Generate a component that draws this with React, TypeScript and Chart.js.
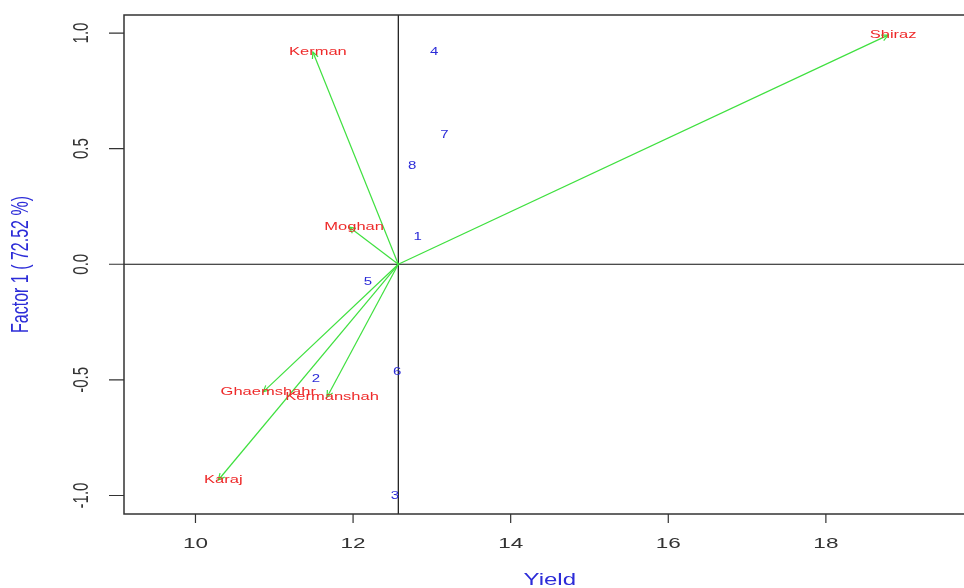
import React, { useEffect, useRef } from "react";
import { Chart, registerables } from "chart.js";

Chart.register(...registerables);

// ---------- data ----------
const ORIGIN_X = 12.574;
const ORIGIN_Y = 0;

const envNames = ["Shiraz", "Kerman", "Moghan", "Ghaemshahr", "Kermanshah", "Karaj"];
const envX = [18.79, 11.49, 11.95, 10.86, 11.67, 10.29];
const envY = [0.991, 0.918, 0.161, -0.552, -0.574, -0.933];

const genoLabels = ["1", "2", "3", "4", "5", "6", "7", "8"];
const genoX = [12.82, 11.53, 12.53, 13.03, 12.19, 12.56, 13.16, 12.75];
const genoY = [0.118, -0.499, -1.002, 0.918, -0.077, -0.466, 0.558, 0.425];

const xTicks = [10, 12, 14, 16, 18];
const xTickLabels = ["10", "12", "14", "16", "18"];
const yTicks = [-1.0, -0.5, 0.0, 0.5, 1.0];
const yTickLabels = ["-1.0", "-0.5", "0.0", "0.5", "1.0"];

const X_MIN = 9.093;
const X_MAX = 19.9;
const Y_MIN = -1.08;
const Y_MAX = 1.078;

const xTitle = "Yield";
const yTitle = "Factor 1 ( 72.52 %)";

// ---------- style ----------
const FONT = '"Liberation Sans", Arial, Helvetica, sans-serif';
const GREEN = "#3fe03f";
const RED = "#ee2a2a";
const BLUE = "#2c2cd8";
const AXIS = "#333333";
const SX = 1.5; // horizontal stretch of the reference's text

function drawText(
  ctx: CanvasRenderingContext2D,
  text: string,
  x: number,
  y: number,
  font: string,
  color: string,
  rotated = false
) {
  ctx.save();
  ctx.translate(x, y);
  if (rotated) {
    ctx.rotate(-Math.PI / 2);
    ctx.scale(1, SX);
  } else {
    ctx.scale(SX, 1);
  }
  ctx.font = font;
  ctx.fillStyle = color;
  ctx.textAlign = "center";
  ctx.textBaseline = "middle";
  ctx.fillText(text, 0, 0);
  ctx.restore();
}

const biplotPlugin = {
  id: "biplotPlugin",
  beforeDatasetsDraw(chart: any) {
    const { ctx, chartArea, scales } = chart;
    const px = scales.x.getPixelForValue(ORIGIN_X);
    const py = scales.y.getPixelForValue(ORIGIN_Y);
    ctx.save();
    ctx.strokeStyle = "#111111";
    ctx.lineWidth = 1.2;
    ctx.beginPath();
    ctx.moveTo(px, chartArea.top);
    ctx.lineTo(px, chartArea.bottom);
    ctx.moveTo(chartArea.left, py);
    ctx.lineTo(chartArea.right, py);
    ctx.stroke();
    ctx.restore();
  },
  afterDatasetsDraw(chart: any) {
    const { ctx } = chart;
    // arrowheads
    for (let i = 0; i < envNames.length; i++) {
      const meta = chart.getDatasetMeta(i);
      const a = meta.data[0];
      const b = meta.data[1];
      const ang = Math.atan2(b.y - a.y, b.x - a.x);
      const len = 7;
      const spread = Math.PI / 7;
      ctx.save();
      ctx.strokeStyle = GREEN;
      ctx.lineWidth = 1.2;
      ctx.beginPath();
      ctx.moveTo(b.x - len * Math.cos(ang - spread), b.y - len * Math.sin(ang - spread));
      ctx.lineTo(b.x, b.y);
      ctx.lineTo(b.x - len * Math.cos(ang + spread), b.y - len * Math.sin(ang + spread));
      ctx.stroke();
      ctx.restore();
    }
    // environment labels
    const envMeta = chart.getDatasetMeta(envNames.length);
    envMeta.data.forEach((pt: any, i: number) => {
      drawText(ctx, envNames[i], pt.x + 5, pt.y, `11px ${FONT}`, RED);
    });
    // genotype labels
    const genoMeta = chart.getDatasetMeta(envNames.length + 1);
    genoMeta.data.forEach((pt: any, i: number) => {
      drawText(ctx, genoLabels[i], pt.x, pt.y, `10px ${FONT}`, BLUE);
    });
  },
  afterDraw(chart: any) {
    const { ctx, chartArea, scales } = chart;
    ctx.save();
    ctx.strokeStyle = AXIS;
    ctx.lineWidth = 1.5;
    ctx.strokeRect(chartArea.left, chartArea.top, chartArea.right - chartArea.left, chartArea.bottom - chartArea.top);
    ctx.lineWidth = 1.2;
    ctx.beginPath();
    yTicks.forEach((v) => {
      const y = scales.y.getPixelForValue(v);
      ctx.moveTo(chartArea.left - 15, y);
      ctx.lineTo(chartArea.left, y);
    });
    xTicks.forEach((v) => {
      const x = scales.x.getPixelForValue(v);
      ctx.moveTo(x, chartArea.bottom);
      ctx.lineTo(x, chartArea.bottom + 9);
    });
    ctx.stroke();
    ctx.restore();

    yTicks.forEach((v, i) => {
      const y = scales.y.getPixelForValue(v);
      drawText(ctx, yTickLabels[i], chartArea.left - 42, y, `15px ${FONT}`, "#333333", true);
    });
    xTicks.forEach((v, i) => {
      const x = scales.x.getPixelForValue(v);
      drawText(ctx, xTickLabels[i], x, chartArea.bottom + 30, `15px ${FONT}`, "#333333");
    });
    drawText(ctx, xTitle, (chartArea.left + chartArea.right) / 2, chartArea.bottom + 67, `16px ${FONT}`, BLUE);
    drawText(ctx, yTitle, 21, (chartArea.top + chartArea.bottom) / 2, `16px ${FONT}`, BLUE, true);
  },
};

export default function App() {
  const ref = useRef<HTMLCanvasElement | null>(null);

  useEffect(() => {
    if (!ref.current) return;
    const arrowSets = envNames.map((name, i) => ({
      label: name,
      data: [
        { x: ORIGIN_X, y: ORIGIN_Y },
        { x: envX[i], y: envY[i] },
      ],
      showLine: true,
      borderColor: GREEN,
      borderWidth: 1.2,
      pointRadius: 0,
      pointHoverRadius: 0,
    }));
    const envLabelSet = {
      label: "Environments",
      data: envX.map((x, i) => ({ x, y: envY[i] })),
      pointRadius: 0,
      showLine: false,
    };
    const genoSet = {
      label: "Genotypes",
      data: genoX.map((x, i) => ({ x, y: genoY[i] })),
      pointRadius: 0,
      showLine: false,
    };

    const chart = new Chart(ref.current, {
      type: "scatter",
      data: { datasets: [...arrowSets, envLabelSet, genoSet] as any },
      options: {
        animation: false,
        responsive: false,
        devicePixelRatio: 1,
        layout: { padding: { left: 124, top: 15, right: 14.4, bottom: 74 } },
        plugins: { legend: { display: false }, tooltip: { enabled: false } },
        scales: {
          x: { type: "linear", min: X_MIN, max: X_MAX, display: false },
          y: { type: "linear", min: Y_MIN, max: Y_MAX, display: false },
        },
      },
      plugins: [biplotPlugin],
    });
    return () => chart.destroy();
  }, []);

  return (
    <div
      style={{
        position: "fixed",
        left: 0,
        top: 0,
        width: 964,
        height: 588,
        overflow: "hidden",
        background: "#ffffff",
      }}
    >
      <canvas ref={ref} width={990} height={588} style={{ width: 990, height: 588, display: "block" }} />
    </div>
  );
}
